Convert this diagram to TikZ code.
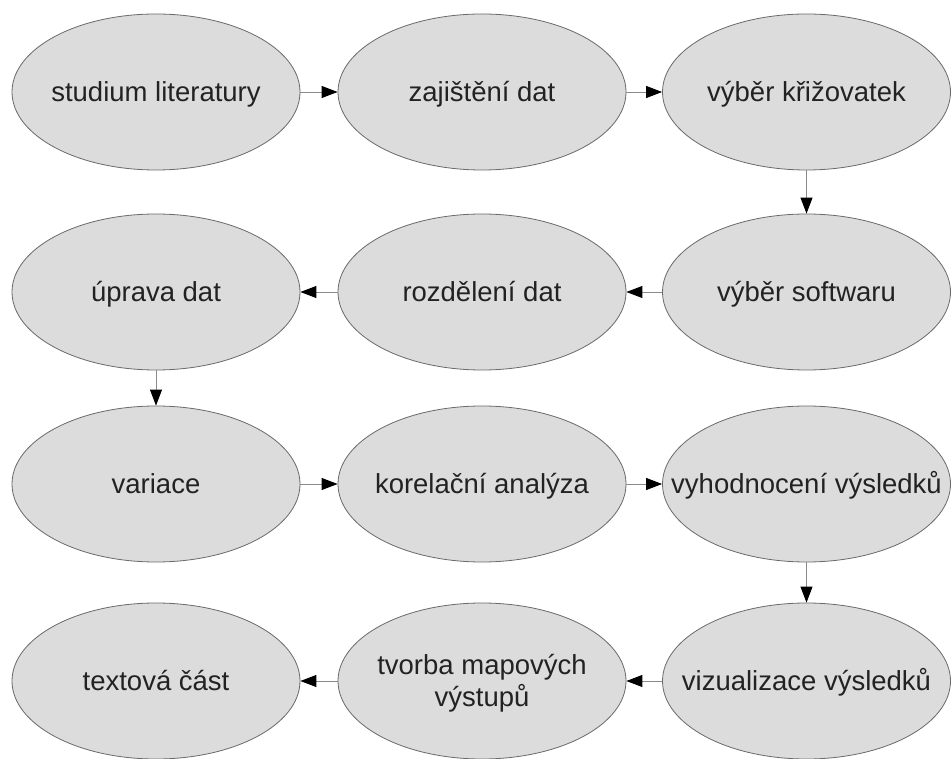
\documentclass[tikz,border=0pt]{standalone}
\usepackage{fontspec}
\setmainfont{Liberation Sans}
\usetikzlibrary{shapes.geometric,arrows.meta}
\definecolor{ellfill}{HTML}{DCDCDC}
\definecolor{ellline}{HTML}{6A6A6A}
\definecolor{arrline}{HTML}{8A8A8A}
\definecolor{txt}{HTML}{222222}
\begin{document}
\begin{tikzpicture}[x=1pt,y=1pt,
  stage/.style={ellipse, draw=ellline, line width=0.8pt, fill=ellfill,
    minimum width=288pt, minimum height=156pt, inner sep=0pt},
  lbl/.style={inner sep=0pt, align=center, text=txt,
    font=\fontsize{27.5}{32}\selectfont},
  lblb/.style={lbl, anchor=base, yshift=-9.5pt},
  flow/.style={draw=arrline, line width=0.9pt,
    -{Triangle[length=16pt,width=12pt,color=black]}}]
\path[use as bounding box, fill=white] (0,0) rectangle (952,758);
% rows: y = 758 - {92, 292, 484, 681}
\node[stage] (a1) at (156,666) {};
\node[stage] (a2) at (482,666) {};
\node[stage] (a3) at (806.5,666) {};
\node[stage] (b1) at (156,466) {};
\node[stage] (b2) at (482,466) {};
\node[stage] (b3) at (806.5,466) {};
\node[stage] (c1) at (156,274) {};
\node[stage] (c2) at (482,274) {};
\node[stage] (c3) at (806.5,274) {};
\node[stage] (d1) at (156,77) {};
\node[stage] (d2) at (482,77) {};
\node[stage] (d3) at (806.5,77) {};
\node[lblb] (ta1) at (a1) {studium literatury};
\node[lblb] (ta2) at (a2) {zajištění dat};
\node[lblb] (ta3) at (a3) {výběr křižovatek};
\node[lblb] (tb1) at (b1) {úprava dat};
\node[lblb] (tb2) at (b2) {rozdělení dat};
\node[lblb] (tb3) at (b3) {výběr softwaru};
\node[lblb] (tc1) at (c1) {variace};
\node[lblb] (tc2) at (c2) {korelační analýza};
\node[lblb] (tc3) at (c3) {vyhodnocení výsledků};
\node[lblb] (td1) at (d1) {textová část};
\node[lbl, yshift=-2pt] (td2) at (d2) {tvorba mapových\\výstupů};
\node[lblb] (td3) at (d3) {vizualizace výsledků};
\draw[flow] (a1) -- (a2);
\draw[flow] (a2) -- (a3);
\draw[flow] (a3) -- (b3);
\draw[flow] (b3) -- (b2);
\draw[flow] (b2) -- (b1);
\draw[flow] (b1) -- (c1);
\draw[flow] (c1) -- (c2);
\draw[flow] (c2) -- (c3);
\draw[flow] (c3) -- (d3);
\draw[flow] (d3) -- (d2);
\draw[flow] (d2) -- (d1);
\end{tikzpicture}
\end{document}
